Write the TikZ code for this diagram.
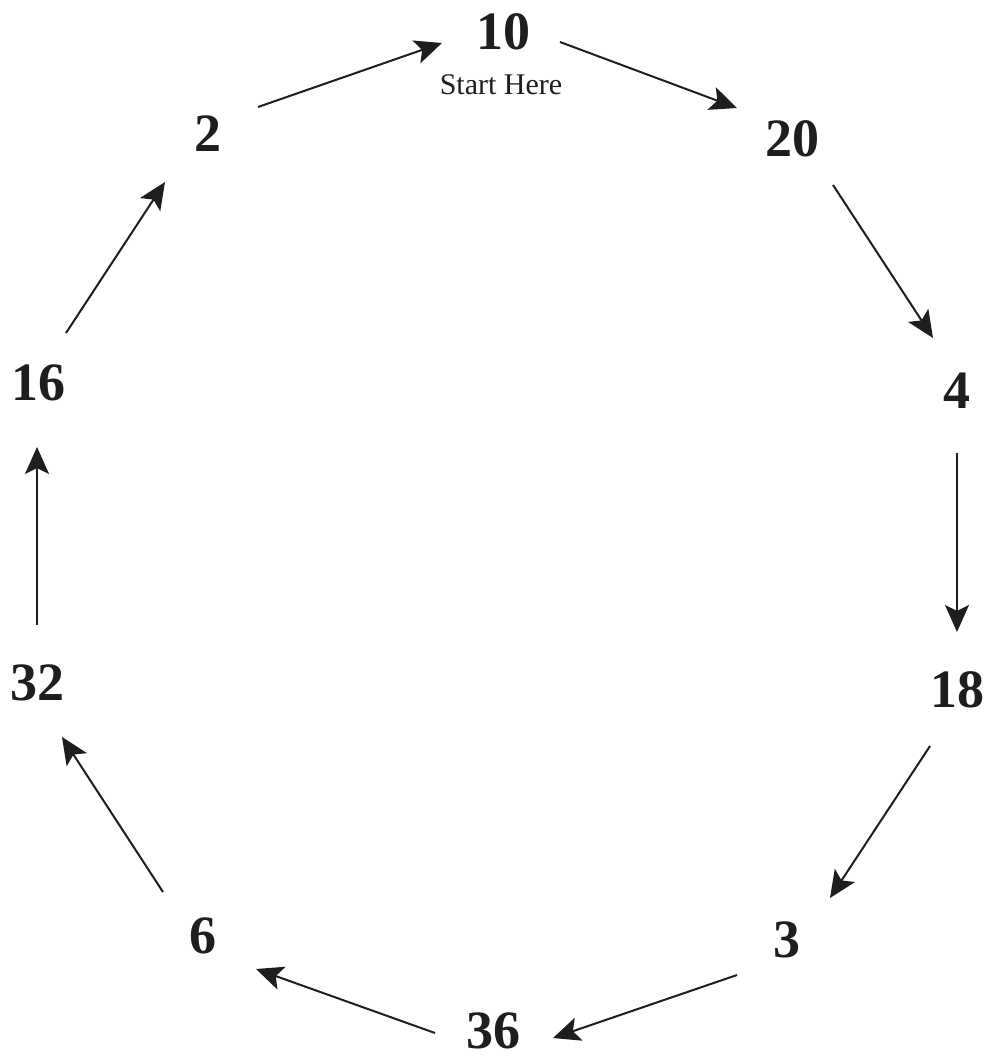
\documentclass[tikz,border=0pt]{standalone}
\usepackage{fontspec}
\setmainfont{Liberation Serif}
\usetikzlibrary{arrows.meta,calc}
\definecolor{ink}{HTML}{1E1E1E}
\begin{document}
\begin{tikzpicture}[x=1pt,y=-1pt,
  num/.style={font=\fontsize{54}{54}\selectfont\bfseries, inner sep=0pt, text=ink},
  lbl/.style={font=\fontsize{30}{30}\selectfont, inner sep=0pt, text=ink},
  arr/.style={draw=ink, line width=2pt, -{Stealth[length=27pt,width=24pt,inset=6pt]}}]
\useasboundingbox (0,0) rectangle (985,1062);
\fill[white] (0,0) rectangle (985,1062);
\node[num] (n10) at (503,31.5) {10};
\node[lbl] (start) at (501,85) {Start Here};
\node[num] (n20) at (792,138.5) {20};
\node[num] (n4) at (957,391) {4};
\node[num] (n18) at (957,690) {18};
\node[num] (n3) at (787,940) {3};
\node[num] (n36) at (493,1031) {36};
\node[num] (n6) at (203,936) {6};
\node[num] (n32) at (37,683) {32};
\node[num] (n16) at (39,383) {16};
\node[num] (n2) at (208,134) {2};
\draw[arr] ($(n2.center)+(50,-27)$) -- ($(n10.center)+(-61,11.5)$);
\draw[arr] ($(n10.center)+(57,10.5)$) -- ($(n20.center)+(-55,-30.5)$);
\draw[arr] ($(n20.center)+(41,46.5)$) -- ($(n4.center)+(-24,-53)$);
\draw[arr] ($(n4.center)+(0,62)$) -- ($(n18.center)+(0,-58)$);
\draw[arr] ($(n18.center)+(-27,56)$) -- ($(n3.center)+(43,-42)$);
\draw[arr] ($(n3.center)+(-50,35)$) -- ($(n36.center)+(60,7)$);
\draw[arr] ($(n36.center)+(-58,2)$) -- ($(n6.center)+(53,33)$);
\draw[arr] ($(n6.center)+(-40,-44)$) -- ($(n32.center)+(25,54)$);
\draw[arr] ($(n32.center)+(0,-58)$) -- ($(n16.center)+(-2,64)$);
\draw[arr] ($(n16.center)+(27,-50)$) -- ($(n2.center)+(-43,48)$);
\end{tikzpicture}
\end{document}
